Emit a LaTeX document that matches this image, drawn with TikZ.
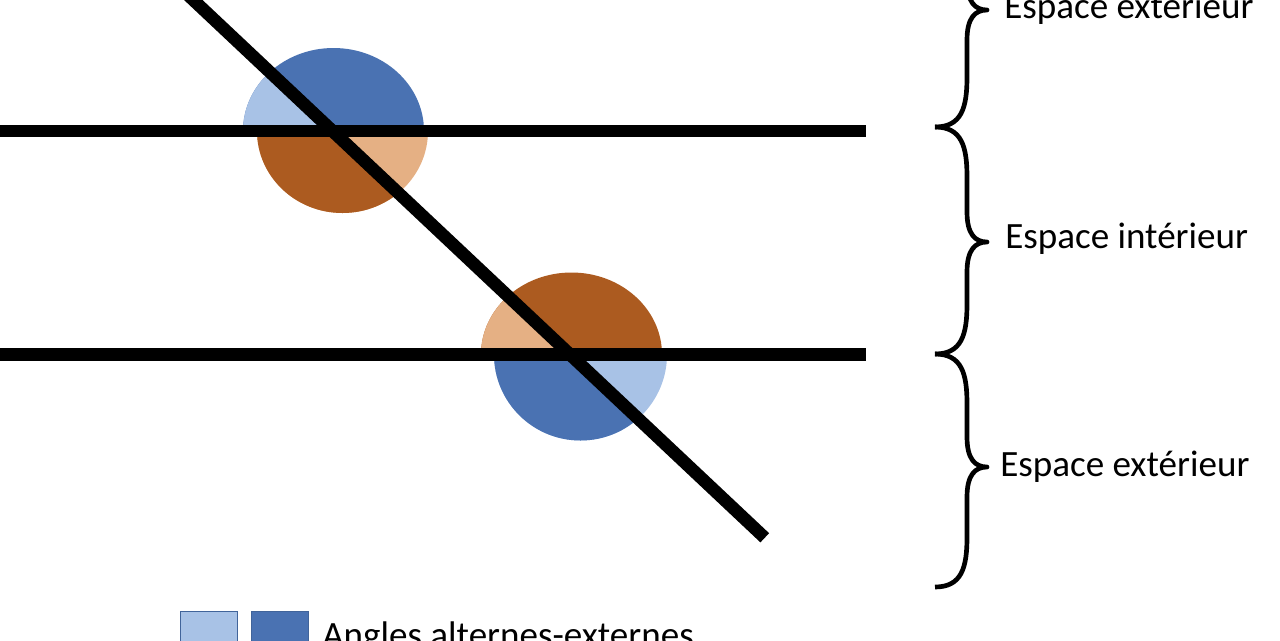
\documentclass[tikz,border=0pt]{standalone}
\usepackage{fontspec}
\setmainfont{Carlito}
\usetikzlibrary{calc}
\definecolor{bleuclair}{HTML}{A8C2E6}
\definecolor{bleufonce}{HTML}{4A72B2}
\definecolor{brun}{HTML}{AC5B20}
\definecolor{orangeclair}{HTML}{E5B084}
\definecolor{bleubord}{HTML}{41649A}
\tikzset{%
	trait/.style = {line width = 9.5pt},
	accol/.style = {line width = 3.5pt, line join = round},
	texte/.style = {anchor = base west, inner sep = 0pt, font = \fontsize{27.8}{33}\selectfont},
	carre/.style = {draw = bleubord, line width = 1pt, minimum size = 42.75pt, inner sep = 0pt, anchor = north west}
}
\begin{document}
\begin{tikzpicture}[x = 0.75pt, y = -0.75pt]
	\useasboundingbox (0,0) rectangle (1280,640);
	\clip (0,0) rectangle (1280,640);
	\coordinate (I1) at (332.5,131);
	\coordinate (I2) at (570,354.5);
	\coordinate (G1) at ($(I1)!-2!(I2)$);
	\coordinate (G2) at ($(I1)!4!(I2)$);
	\coordinate (G3) at ($(G2)+(-1600,0)$);
	\coordinate (G4) at ($(G1)+(-1600,0)$);
	% cercle du haut
	\begin{scope}
		\clip (0,0) rectangle (1280,131);
		\fill[bleufonce] (333.5,131) ellipse [x radius = 90.5, y radius = 83];
		\clip (G1) -- (G2) -- (G3) -- (G4) -- cycle;
		\fill[bleuclair] (333.5,131) ellipse [x radius = 90.5, y radius = 83];
	\end{scope}
	\begin{scope}
		\clip (0,131) rectangle (1280,240);
		\fill[orangeclair] (342.5,131) ellipse [x radius = 85.5, y radius = 82];
		\clip (G1) -- (G2) -- (G3) -- (G4) -- cycle;
		\fill[brun] (342.5,131) ellipse [x radius = 85.5, y radius = 82];
	\end{scope}
	% cercle du bas
	\begin{scope}
		\clip (0,250) rectangle (1280,354.5);
		\fill[brun] (571.5,354.5) ellipse [x radius = 90.5, y radius = 82];
		\clip (G1) -- (G2) -- (G3) -- (G4) -- cycle;
		\fill[orangeclair] (571.5,354.5) ellipse [x radius = 90.5, y radius = 82];
	\end{scope}
	\begin{scope}
		\clip (0,354.5) rectangle (1280,460);
		\fill[bleuclair] (580.5,354.5) ellipse [x radius = 86.5, y radius = 86];
		\clip (G1) -- (G2) -- (G3) -- (G4) -- cycle;
		\fill[bleufonce] (580.5,354.5) ellipse [x radius = 86.5, y radius = 86];
	\end{scope}
	% droites
	\draw[trait] (0,131) -- (866,131);
	\draw[trait] (0,354.5) -- (866,354.5);
	\draw[trait] ($(I1)!-1!(I2)$) -- ($(I1)!1.82!(I2)$);
	% accolades
	\foreach \ya/\ym/\yb in {-107/10/127, 127/242/354, 354/467/587}
		\draw[accol] (935,\ya) .. controls (962,\ya) and (967,\ya+20) .. (967,\ya+50) -- (967,\ym-30) .. controls (967,\ym-8) and (975,\ym) .. (987,\ym) .. controls (975,\ym) and (967,\ym+8) .. (967,\ym+30) -- (967,\yb-50) .. controls (967,\yb-20) and (962,\yb) .. (935,\yb);
	\node[texte] (exthaut) at (1004,18) {Espace extérieur};
	\node[texte] (interieur) at (1005,248) {Espace intérieur};
	\node[texte] (extbas) at (1000,476) {Espace extérieur};
	% legende
	\node[carre, fill = bleuclair] (carreclair) at (179.5,610.5) {};
	\node[carre, fill = bleufonce] (carrefonce) at (250.5,610.5) {};
	\node[texte] (legende) at (322,647) {Angles alternes-externes};
\end{tikzpicture}
\end{document}
